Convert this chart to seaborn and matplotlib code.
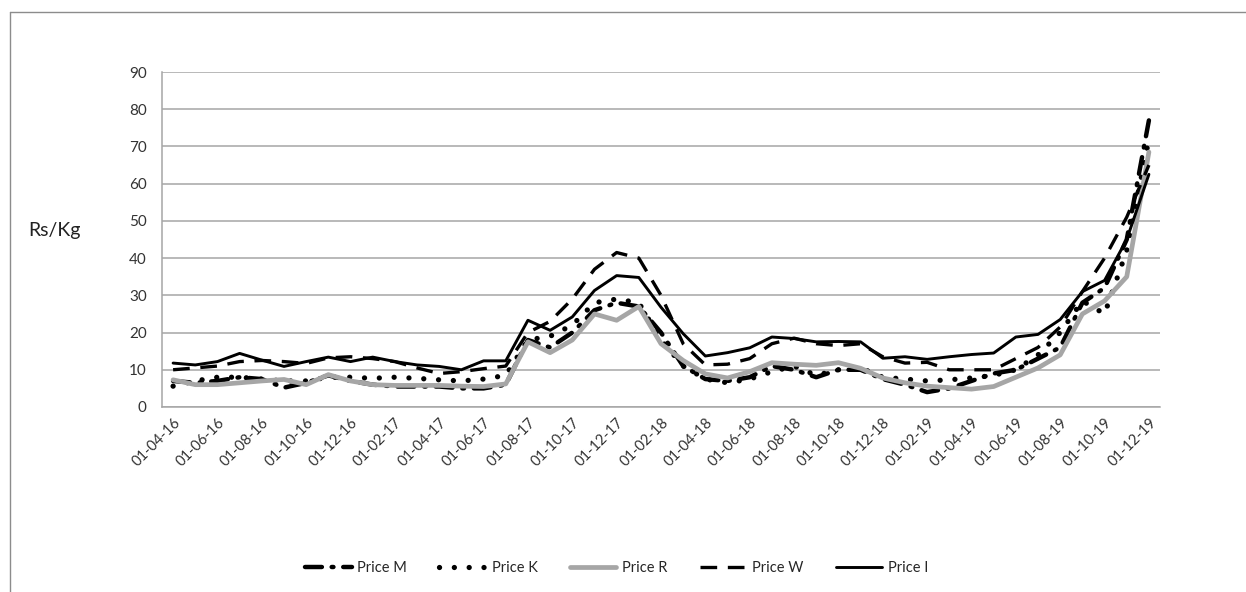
import matplotlib
matplotlib.use("Agg")
import matplotlib.pyplot as plt
from matplotlib.lines import Line2D
import seaborn as sns
import numpy as np
import pandas as pd

# monthly, 01-04-16 .. 01-12-19
months = pd.date_range("2016-04-01", periods=45, freq="MS").strftime("%d-%m-%y").tolist()

price_m = [7, 6.5, 7, 8, 7.5, 5.2, 6.5, 8.5, 7, 6, 5.5, 5.5, 5.5, 5, 5, 6,
           18, 16, 20, 26, 28, 27, 20, 11, 7.5, 7, 8, 11, 10, 8, 10,
           10, 7.5, 6, 4, 5, 7, 9, 10, 13, 16, 28, 32, 45, 77]
price_k = [5.6, 7, 8, 8, 7.5, 7, 7, 8, 8, 7.7, 8, 7.7, 7.3, 7, 7.5, 8.5,
           18, 19, 22, 28, 29, 28, 18, 11, 7.5, 6.5, 7.5, 9.5, 11, 8.5, 10,
           10.5, 8, 7.5, 7, 7.3, 7.8, 8.5, 10, 14, 20, 28.5, 25, 42, 72]
price_r = [7.3, 6, 6, 6.5, 7, 7.4, 6, 8.7, 7, 6, 5.8, 5.8, 5.8, 5.6, 5.5, 6.2,
           17.5, 14.6, 18, 25, 23.3, 27, 17, 12.5, 8.9, 7.8, 9.5, 11.9, 11.5, 11.2, 11.9,
           10.4, 7.8, 6.5, 5.6, 5.2, 4.8, 5.5, 8, 10.5, 14, 25, 28.5, 35, 68.5]
price_w = [10, 10.5, 11, 12.2, 12.5, 12.2, 11.7, 13.2, 13.5, 13, 12.2, 10.5, 9, 9.5, 10.3, 11,
           20, 23, 29, 37, 41.5, 40, 30, 17, 11.3, 11.5, 13, 17, 18.5, 17, 16.5,
           17, 13.5, 11.8, 12, 10, 10, 10, 13, 16, 21.5, 31, 40, 51, 65]
price_i = [11.8, 11.3, 12.2, 14.4, 12.6, 10.9, 12.2, 13.4, 12.2, 13.4, 12.2, 11.3, 10.9, 10, 12.4, 12.4,
           23.3, 20.6, 24.2, 31.3, 35.3, 34.8, 26.8, 19.7, 13.7, 14.6, 15.9, 18.8, 18.4, 17.5, 17.6,
           17.5, 13.1, 13.5, 12.8, 13.5, 14.1, 14.5, 18.8, 19.5, 23.5, 31, 34, 45, 62.5]

sns.set_style("white")
plt.rcParams["font.family"] = ["Lato", "DejaVu Sans"]

fig = plt.figure(figsize=(12.46, 5.92), dpi=100)
ax = fig.add_axes([162 / 1246, 1 - 407 / 592, (1160 - 162) / 1246, (407 - 72) / 592])

x = np.arange(len(months))
sns.lineplot(x=x, y=price_m, ax=ax, color="black", lw=3.2, label="Price M",
             linestyle=(0, (3.8, 2.2, 0.4, 2.2)), dash_capstyle="round")
sns.lineplot(x=x, y=price_k, ax=ax, color="black", lw=3.8, label="Price K",
             linestyle=(0, (0.01, 2.8)), dash_capstyle="round")
sns.lineplot(x=x, y=price_r, ax=ax, color="#a6a6a6", lw=3.4, label="Price R")
sns.lineplot(x=x, y=price_w, ax=ax, color="black", lw=2.4, label="Price W",
             linestyle=(0, (5, 3.2)))
sns.lineplot(x=x, y=price_i, ax=ax, color="black", lw=2.1, label="Price I")

ax.set_xlim(-0.5, len(months) - 0.5)
ax.set_ylim(0, 90)
ax.set_yticks(range(0, 91, 10))
ax.yaxis.grid(True, color="#a6a6a6", lw=1.1)
ax.xaxis.grid(False)
for s in ["top", "right"]:
    ax.spines[s].set_visible(False)
for s in ["left", "bottom"]:
    ax.spines[s].set_color("#a6a6a6")
    ax.spines[s].set_linewidth(1.1)

ax.set_xticks(x[::2])
ax.set_xticklabels(months[::2], rotation=45, ha="right", rotation_mode="anchor")
ax.set_xticks(np.arange(-0.5, len(months) - 1, 2), minor=True)
ax.tick_params(axis="x", which="major", length=0, pad=6, labelsize=10.5, labelcolor="#333333")
ax.tick_params(axis="x", which="minor", length=5, width=1.1, color="#a6a6a6", direction="out")
ax.tick_params(axis="y", length=5, width=1.1, color="#a6a6a6", labelsize=11,
               labelcolor="#333333", pad=6)
ax.set_xlabel("")
ax.set_ylabel("")

fig.text(28 / 1246, 1 - 231 / 592, "Rs/Kg", fontsize=14, va="center", ha="left", color="#222222")

ax.get_legend().remove()
handles, labels = ax.get_legend_handles_labels()
fig.legend(handles, labels, loc="center", bbox_to_anchor=(0.495, 1 - 568 / 592), ncol=5,
           frameon=False, fontsize=10.5, handlelength=3.2, columnspacing=2.2, handletextpad=0.4)

# outer chart frame
fig.add_artist(Line2D([10 / 1246, 10 / 1246], [0, 1 - 12 / 592], color="#8c8c8c", lw=1))
fig.add_artist(Line2D([10 / 1246, 1], [1 - 12 / 592, 1 - 12 / 592], color="#8c8c8c", lw=1))

fig.savefig("out.png", dpi=100)
